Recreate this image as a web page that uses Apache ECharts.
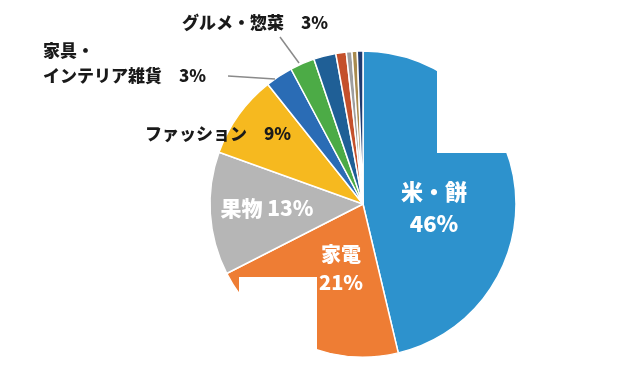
<!DOCTYPE html>
<html><head><meta charset="utf-8">
<script src="https://cdn.jsdelivr.net/npm/echarts@6/dist/echarts.min.js"></script>
<style>html,body{margin:0;padding:0;background:#fff}#c{width:631px;height:367px}</style>
</head><body><div id="c"></div>
<script>
const categories = ['米・餅','家電','果物','ファッション','家具・\nインテリア雑貨','グルメ・惣菜','その他1','その他2','その他3','その他4','その他5'];
const values = [46.3, 21.2, 13.0, 8.8, 2.9, 2.6, 2.35, 1.1, 0.6, 0.55, 0.6];
const shownPct = [46, 21, 13, 9, 3, 3, null, null, null, null, null];
const colors = ['#2d92cd','#ee7d34','#b6b6b6','#f6b91f','#2a6cb5','#4cab46','#1f5f96','#c4502b','#9e9e9e','#a88a4e','#1f3b70'];

const F = '"Noto Sans CJK JP", "Noto Sans", sans-serif';
const inside = {color:'#fff', fontWeight:900, fontFamily:F};
const outside = {color:'#1a1a1a', fontWeight:900, fontFamily:F, fontSize:17, lineHeight:25};

const labelCfg = [
  Object.assign({show:true, position:'inside', fontSize:22, lineHeight:32, formatter:'米・餅\n{c}%'}, inside),
  Object.assign({show:true, position:'inside', fontSize:20, lineHeight:28, formatter:'家電\n{c}%'}, inside),
  Object.assign({show:true, position:'inside', fontSize:21, formatter:'果物 {c}%'}, inside),
  Object.assign({show:true, position:'outside', formatter:'ファッション　{c}%'}, outside),
  Object.assign({show:true, position:'outside', formatter:'家具・\nインテリア雑貨　{c}%', align:'left'}, outside),
  Object.assign({show:true, position:'outside', formatter:'グルメ・惣菜　{c}%'}, outside)
];

const data = categories.map((n,i)=>{
  const d = {name:n, value:values[i], itemStyle:{color:colors[i]}, labelLine:{show:false}};
  if (i < 6) {
    const l = Object.assign({}, labelCfg[i]);
    l.formatter = l.formatter.replace('{c}', shownPct[i]);
    d.label = l;
  } else {
    d.label = {show:false};
  }
  return d;
});

const layoutPos = {
  0:{x:434,y:208,align:'center',verticalAlign:'middle'},
  1:{x:341,y:268,align:'center',verticalAlign:'middle'},
  2:{x:267,y:208,align:'center',verticalAlign:'middle'},
  3:{x:145,y:134,align:'left',verticalAlign:'middle'},
  4:{x:43,y:63,align:'left',verticalAlign:'middle'},
  5:{x:182,y:23,align:'left',verticalAlign:'middle'}
};

const chart = echarts.init(document.getElementById('c'), null, {renderer:'canvas'});
chart.setOption({
  animation:false,
  series:[{
    type:'pie',
    center:[363,204],
    radius:[0,153],
    startAngle:90,
    clockwise:true,
    avoidLabelOverlap:false,
    itemStyle:{borderColor:'#fff', borderWidth:1.5},
    data:data,
    labelLayout:function(p){ return layoutPos[p.dataIndex] || {}; }
  }],
  graphic:[
    {type:'polyline', z:50, shape:{points:[[228,76],[275,79]]}, style:{stroke:'#8a8a8a', lineWidth:1.5, fill:null}},
    {type:'polyline', z:50, shape:{points:[[280,37],[299,63]]}, style:{stroke:'#8a8a8a', lineWidth:1.5, fill:null}},
    {type:'rect', z:100, shape:{x:437,y:0,width:100,height:153}, style:{fill:'#fff'}},
    {type:'rect', z:100, shape:{x:239,y:277,width:78,height:90}, style:{fill:'#fff'}}
  ]
});
</script></body></html>
